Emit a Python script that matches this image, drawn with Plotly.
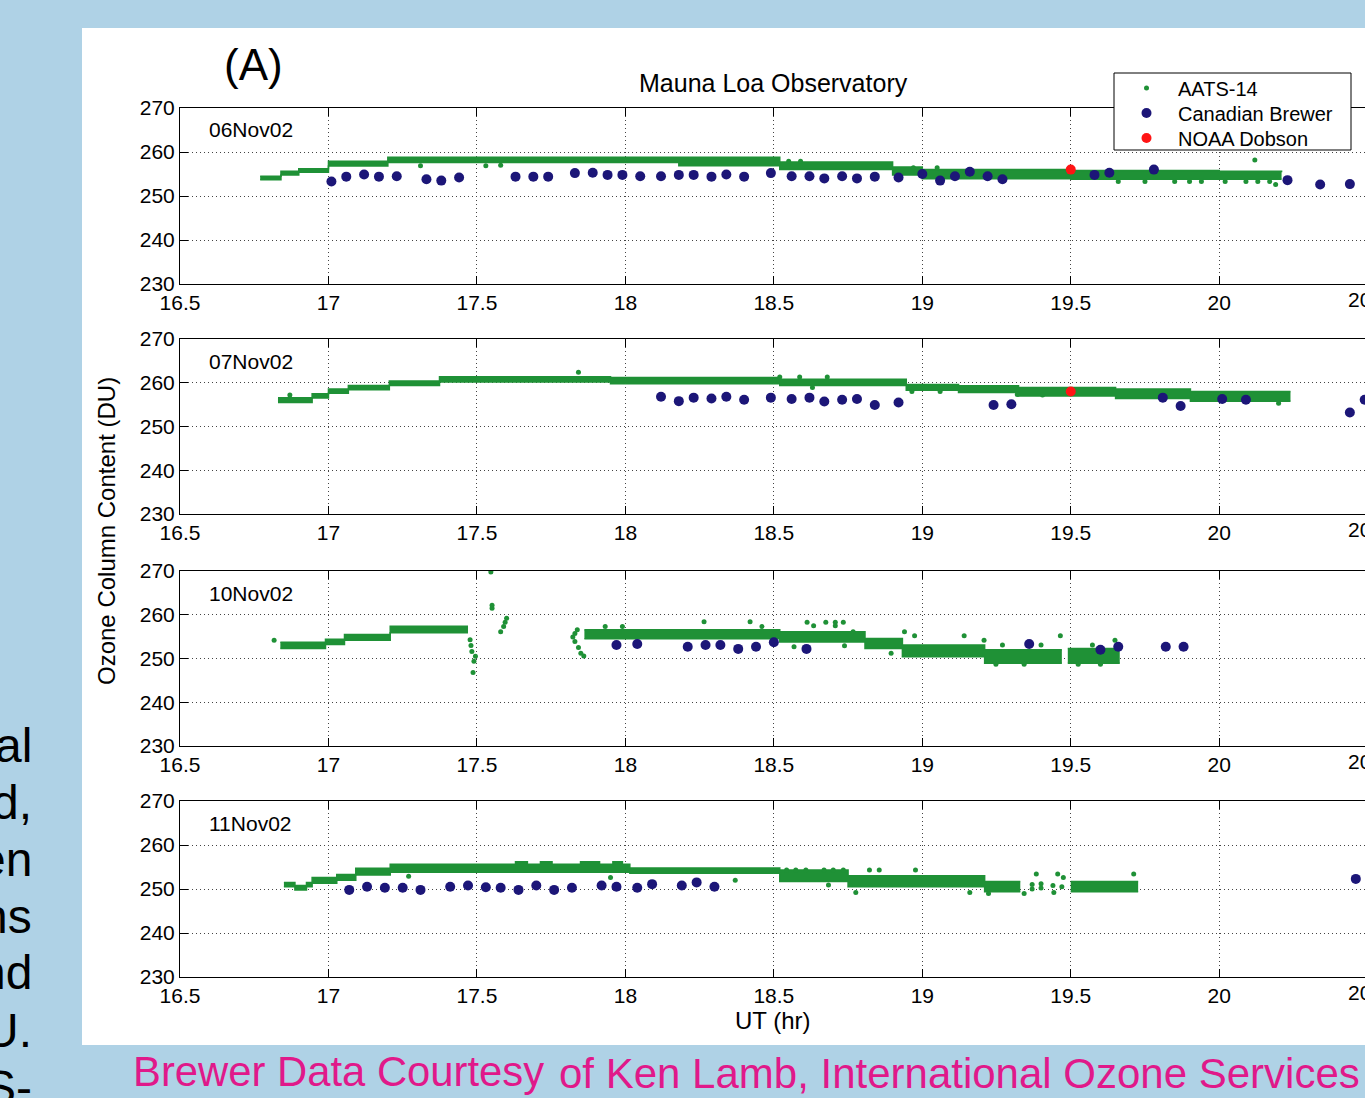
import plotly.graph_objects as go

W, H = 1365, 1098
FONT = "Liberation Sans, Arial, sans-serif"
GREEN = "#1f9136"
BLUE = "#1c1678"
RED = "#ff1414"
SLIDE_BG = "#afd2e6"
PINK = "#e0198a"


def px(x):
    return x / W


def py(y):
    return 1 - y / H


# ---------------- data ----------------
dates = ["06Nov02", "07Nov02", "10Nov02", "11Nov02"]
x_ticks = [16.5, 17.0, 17.5, 18.0, 18.5, 19.0, 19.5, 20.0]
x_tick_labels = ["16.5", "17", "17.5", "18", "18.5", "19", "19.5", "20"]
y_ticks = [230, 240, 250, 260, 270]
series_names = ["AATS-14", "Canadian Brewer", "NOAA Dobson"]

# Panel 1 (06Nov02)
p1_band_t = [16.77, 16.84, 16.90, 17.00, 17.20, 18.18, 18.52, 18.90, 19.00, 19.50, 20.00, 20.21]
p1_band_hi = [254.5, 255.6, 256.2, 257.9, 258.8, 258.8, 257.7, 256.6, 256.0, 255.8, 255.6, 255.4]
p1_band_lo = [253.7, 254.8, 255.4, 256.8, 257.6, 256.9, 256.0, 254.8, 253.9, 253.8, 253.8, 253.8]
p1_aats_t = [17.31, 17.53, 17.58, 18.55, 18.59, 18.97, 19.05, 19.66, 19.75, 19.85, 19.90, 19.94,
             20.02, 20.09, 20.12, 20.13, 20.17, 20.19]
p1_aats_v = [256.9, 256.9, 257.0, 257.9, 257.9, 256.4, 256.4, 253.3, 253.3, 253.3, 253.3, 253.3,
             253.3, 253.3, 258.2, 253.3, 253.3, 252.6]
p1_brewer_t = [17.01, 17.06, 17.12, 17.17, 17.23, 17.33, 17.38, 17.44, 17.63, 17.69, 17.74, 17.83,
               17.89, 17.94, 17.99, 18.05, 18.12, 18.18, 18.23, 18.29, 18.34, 18.40, 18.49, 18.56,
               18.62, 18.67, 18.73, 18.78, 18.84, 18.92, 19.00, 19.06, 19.11, 19.16, 19.22, 19.27,
               19.58, 19.63, 19.78, 20.23, 20.34, 20.44]
p1_brewer_v = [253.3, 254.4, 254.9, 254.4, 254.5, 253.8, 253.5, 254.2, 254.4, 254.4, 254.4, 255.2,
               255.3, 254.8, 254.8, 254.5, 254.5, 254.8, 254.8, 254.4, 254.9, 254.4, 255.2, 254.5,
               254.5, 254.0, 254.5, 254.0, 254.4, 254.2, 255.0, 253.5, 254.5, 255.5, 254.5, 253.8,
               254.8, 255.3, 256.0, 253.6, 252.6, 252.7]
p1_dobson_t = [19.5]
p1_dobson_v = [256.0]

# Panel 2 (07Nov02)
p2_band_t = [16.83, 16.945, 17.00, 17.067, 17.205, 17.374, 17.95, 18.52, 18.946, 19.122, 19.324,
             19.651, 19.903, 20.24]
p2_band_hi = [256.6, 257.5, 258.6, 259.4, 260.4, 261.4, 261.2, 260.8, 259.6, 259.3, 258.9, 258.6,
              258.0, 258.0]
p2_band_lo = [255.5, 256.5, 257.6, 258.4, 259.4, 260.2, 259.8, 259.4, 258.3, 257.8, 257.0, 256.4,
              255.8, 255.8]
p2_aats_t = [16.87, 17.842, 18.52, 18.587, 18.63, 18.68, 18.965, 19.06, 19.32, 19.405, 19.925,
             19.99, 20.2]
p2_aats_v = [257.2, 262.4, 261.3, 261.3, 258.9, 261.3, 258.0, 258.0, 257.3, 257.2, 256.6, 256.7,
             255.3]
p2_brewer_t = [18.12, 18.18, 18.23, 18.29, 18.34, 18.40, 18.49, 18.56, 18.62, 18.67, 18.73, 18.78,
               18.84, 18.92, 19.24, 19.30, 19.81, 19.87, 20.01, 20.09, 20.44, 20.49]
p2_brewer_v = [256.8, 255.8, 256.6, 256.4, 256.8, 256.1, 256.6, 256.3, 256.6, 255.7, 256.1, 256.3,
               254.9, 255.5, 254.9, 255.1, 256.6, 254.7, 256.3, 256.1, 253.2, 256.1]
p2_dobson_t = [19.5]
p2_dobson_v = [258.0]

# Panel 3 (10Nov02)
p3_band1_t = [16.838, 16.99, 17.054, 17.208, 17.47]
p3_band1_hi = [253.7, 254.4, 255.5, 257.4, 257.4]
p3_band1_lo = [252.3, 253.2, 254.2, 255.9, 255.9]
p3_band2_t = [17.862, 18.52, 18.807, 18.933, 19.21, 19.47]
p3_band2_hi = [256.6, 256.1, 254.6, 253.1, 252.0, 252.0]
p3_band2_lo = [254.5, 253.8, 252.3, 250.4, 248.9, 248.9]
p3_band3_t = [19.49, 19.665]
p3_band3_hi = [252.3, 252.3]
p3_band3_lo = [248.9, 248.9]
p3_aats_t = [16.817, 17.48, 17.477, 17.483, 17.495, 17.49, 17.487, 17.547, 17.551, 17.551, 17.58,
             17.59, 17.595, 17.60, 17.823, 17.83, 17.83, 17.838, 17.842, 17.85, 17.86, 17.932,
             17.99, 18.265, 18.42, 18.46, 18.568, 18.612, 18.634, 18.675, 18.707, 18.707, 18.734,
             18.738, 18.767, 18.895, 18.94, 18.974, 19.141, 19.208, 19.248, 19.27, 19.343, 19.40,
             19.465, 19.525, 19.573, 19.6, 19.649]
p3_aats_v = [254.2, 253.0, 254.3, 251.6, 250.5, 249.4, 246.8, 269.8, 262.2, 261.5, 256.1, 257.3,
             258.3, 259.2, 254.9, 253.9, 255.7, 256.6, 252.5, 251.2, 250.6, 257.3, 257.3, 258.4,
             258.4, 257.3, 252.7, 258.3, 257.5, 258.3, 258.3, 257.5, 258.3, 252.9, 256.1, 251.2,
             256.1, 255.2, 255.2, 254.2, 248.7, 253.1, 248.7, 253.1, 255.2, 248.7, 253.1, 248.7,
             254.2]
p3_brewer_t = [17.97, 18.04, 18.21, 18.27, 18.32, 18.38, 18.44, 18.50, 18.61, 19.36, 19.60, 19.66,
               19.82, 19.88]
p3_brewer_v = [253.1, 253.3, 252.7, 253.1, 253.1, 252.2, 252.7, 253.7, 252.2, 253.3, 252.0, 252.7,
               252.7, 252.7]

# Panel 4 (11Nov02)
p4_band1_t = [16.85, 16.887, 16.926, 16.945, 17.028, 17.092, 17.208, 17.63, 17.67, 17.714, 17.753,
              17.849, 17.913, 17.958, 17.99, 18.015, 18.52, 18.75, 19.21, 19.33]
p4_band1_hi = [251.5, 250.8, 251.5, 252.6, 253.3, 254.7, 255.6, 256.2, 255.6, 256.2, 255.6, 256.2,
               255.6, 256.2, 255.6, 254.8, 254.3, 253.0, 251.7, 251.7]
p4_band1_lo = [250.5, 249.8, 250.5, 251.3, 252.0, 253.2, 253.8, 253.8, 253.8, 253.8, 253.8, 253.8,
               253.8, 253.8, 253.8, 253.6, 251.7, 250.5, 249.4, 249.4]
p4_band2_t = [19.50, 19.727]
p4_band2_hi = [251.7, 251.7]
p4_band2_lo = [249.4, 249.4]
p4_aats_t = [17.27, 17.95, 18.37, 18.543, 18.574, 18.608, 18.669, 18.684, 18.70, 18.734, 18.776,
             18.822, 18.855, 18.977, 19.16, 19.223, 19.343, 19.37, 19.37, 19.384, 19.40, 19.40,
             19.443, 19.44, 19.456, 19.47, 19.475, 19.712]
p4_aats_v = [252.9, 252.6, 252.0, 254.3, 254.3, 254.3, 254.3, 250.9, 254.3, 254.3, 249.2, 254.3,
             254.3, 254.3, 249.2, 249.0, 249.0, 251.0, 250.0, 253.4, 251.2, 250.2, 249.2, 250.8,
             253.4, 250.5, 252.6, 253.4]
p4_brewer_t = [17.07, 17.13, 17.19, 17.25, 17.31, 17.41, 17.47, 17.53, 17.58, 17.64, 17.70, 17.76,
               17.82, 17.92, 17.97, 18.04, 18.09, 18.19, 18.24, 18.30, 20.46]
p4_brewer_v = [249.8, 250.5, 250.3, 250.3, 249.8, 250.5, 250.8, 250.4, 250.3, 249.8, 250.8, 249.8,
               250.3, 250.8, 250.5, 250.3, 251.1, 250.8, 251.5, 250.5, 252.3]

slide_words = ["al", "d,", "en", "ns", "nd", "U.", "S-"]

panels = [
    dict(bands=[(p1_band_t, p1_band_lo, p1_band_hi)], at=p1_aats_t, av=p1_aats_v,
         bt=p1_brewer_t, bv=p1_brewer_v, dt=p1_dobson_t, dv=p1_dobson_v),
    dict(bands=[(p2_band_t, p2_band_lo, p2_band_hi)], at=p2_aats_t, av=p2_aats_v,
         bt=p2_brewer_t, bv=p2_brewer_v, dt=p2_dobson_t, dv=p2_dobson_v),
    dict(bands=[(p3_band1_t, p3_band1_lo, p3_band1_hi), (p3_band2_t, p3_band2_lo, p3_band2_hi),
                (p3_band3_t, p3_band3_lo, p3_band3_hi)],
         at=p3_aats_t, av=p3_aats_v, bt=p3_brewer_t, bv=p3_brewer_v, dt=[], dv=[]),
    dict(bands=[(p4_band1_t, p4_band1_lo, p4_band1_hi), (p4_band2_t, p4_band2_lo, p4_band2_hi)],
         at=p4_aats_t, av=p4_aats_v, bt=p4_brewer_t, bv=p4_brewer_v, dt=[], dv=[]),
]

# pixel extents (top, bottom) of each panel
panel_px = [(108, 284), (339, 514), (571, 746), (801, 977)]
legend_rows_px = [88, 113, 138]
legend_keys = ["legend", "legend2", "legend3"]

fig = go.Figure()
for i, p in enumerate(panels):
    xa = "x" if i == 0 else f"x{i+1}"
    ya = "y" if i == 0 else f"y{i+1}"
    for (bt_, blo, bhi) in p["bands"]:
        fig.add_trace(go.Scatter(x=bt_, y=blo, mode="lines", xaxis=xa, yaxis=ya,
                                 line=dict(color=GREEN, width=1.5, shape="hv"),
                                 showlegend=False, hoverinfo="skip"))
        fig.add_trace(go.Scatter(x=bt_, y=bhi, mode="lines", xaxis=xa, yaxis=ya,
                                 line=dict(color=GREEN, width=1.5, shape="hv"),
                                 fill="tonexty", fillcolor=GREEN,
                                 showlegend=False, hoverinfo="skip"))
    fig.add_trace(go.Scatter(x=p["at"], y=p["av"], mode="markers", xaxis=xa, yaxis=ya,
                             marker=dict(color=GREEN, size=5), name=series_names[0],
                             showlegend=(i == 0), legend=legend_keys[0]))
    fig.add_trace(go.Scatter(x=p["bt"], y=p["bv"], mode="markers", xaxis=xa, yaxis=ya,
                             marker=dict(color=BLUE, size=10), name=series_names[1],
                             showlegend=(i == 0), legend=legend_keys[1]))
    if p["dt"]:
        fig.add_trace(go.Scatter(x=p["dt"], y=p["dv"], mode="markers", xaxis=xa, yaxis=ya,
                                 marker=dict(color=RED, size=10), name=series_names[2],
                                 showlegend=(i == 0), legend=legend_keys[2]))

layout = dict(
    width=W, height=H, margin=dict(l=0, r=0, t=0, b=0, pad=0, autoexpand=False),
    paper_bgcolor=SLIDE_BG, plot_bgcolor="white",
    font=dict(family=FONT, color="black"),
    showlegend=True,
)
for key, row in zip(legend_keys, legend_rows_px):
    layout[key] = dict(x=px(1115), y=py(row), xanchor="left", yanchor="middle",
                       bgcolor="rgba(0,0,0,0)", borderwidth=0,
                       font=dict(size=20, family=FONT, color="black"),
                       itemwidth=53, tracegroupgap=0, traceorder="normal")

annotations = []
for i, (top, bot) in enumerate(panel_px):
    xk = "xaxis" if i == 0 else f"xaxis{i+1}"
    yk = "yaxis" if i == 0 else f"yaxis{i+1}"
    ya = "y" if i == 0 else f"y{i+1}"
    xa = "x" if i == 0 else f"x{i+1}"
    layout[xk] = dict(domain=[px(180), 1], range=[16.5, 20.491], anchor=ya, automargin=False,
                      tickmode="array", tickvals=x_ticks, ticktext=x_tick_labels,
                      ticks="inside", ticklen=8, tickcolor="black",
                      showline=True, linecolor="black", linewidth=1, mirror="ticks",
                      showgrid=True, gridcolor="#444", griddash="1px,3px", gridwidth=1,
                      zeroline=False, tickfont=dict(size=21, family=FONT, color="black"),
                      fixedrange=True)
    layout[yk] = dict(domain=[py(bot), py(top)], range=[230, 270], anchor=xa, automargin=False,
                      tickmode="array", tickvals=y_ticks,
                      ticks="inside", ticklen=8, tickcolor="black",
                      showline=True, linecolor="black", linewidth=1, mirror=False,
                      showgrid=True, gridcolor="#444", griddash="1px,3px", gridwidth=1,
                      zeroline=False, tickfont=dict(size=21, family=FONT, color="black"),
                      fixedrange=True)
    annotations.append(dict(text=dates[i], xref="paper", yref="paper", x=px(207), y=py(top + 22),
                            xanchor="left", yanchor="middle", showarrow=False,
                            font=dict(size=21, family=FONT, color="black")))
    annotations.append(dict(text="20.5", xref="paper", yref="paper", x=px(1368), y=py(bot + 15),
                            xanchor="center", yanchor="middle", showarrow=False,
                            font=dict(size=21, family=FONT, color="black")))

annotations += [
    dict(text="(A)", xref="paper", yref="paper", x=px(253), y=py(65), showarrow=False,
         xanchor="center", yanchor="middle", font=dict(size=44, family=FONT, color="black")),
    dict(text="Mauna Loa Observatory", xref="paper", yref="paper", x=px(773), y=py(83),
         showarrow=False, xanchor="center", yanchor="middle",
         font=dict(size=25, family=FONT, color="black")),
    dict(text="Ozone Column Content (DU)", xref="paper", yref="paper", x=px(106), y=py(531),
         showarrow=False, xanchor="center", yanchor="middle", textangle=-90,
         font=dict(size=24, family=FONT, color="black")),
    dict(text="UT (hr)", xref="paper", yref="paper", x=px(773), y=py(1020),
         showarrow=False, xanchor="center", yanchor="middle",
         font=dict(size=24, family=FONT, color="black")),
    dict(text="Brewer Data Courtesy", xref="paper", yref="paper", x=px(131), y=py(1071),
         showarrow=False, xanchor="left", yanchor="middle",
         font=dict(size=41.8, family=FONT, color=PINK)),
    dict(text="of Ken Lamb, International Ozone Services", xref="paper", yref="paper",
         x=px(557), y=py(1073), showarrow=False, xanchor="left", yanchor="middle",
         font=dict(size=42, family=FONT, color=PINK)),
]
for k, w in enumerate(slide_words):
    annotations.append(dict(text=w, xref="paper", yref="paper", x=px(34), y=py(745 + 57 * k),
                            showarrow=False, xanchor="right", yanchor="middle",
                            font=dict(size=48, family=FONT, color="black")))
layout["annotations"] = annotations
layout["shapes"] = [
    dict(type="rect", xref="paper", yref="paper", x0=px(82), x1=1.0,
         y0=py(1045), y1=py(28), fillcolor="white", line=dict(width=0), layer="below"),
    dict(type="rect", xref="paper", yref="paper", x0=px(1114), x1=px(1351),
         y0=py(150), y1=py(73), fillcolor="white", line=dict(color="black", width=1),
         layer="above"),
]

fig.update_layout(**layout)
fig.write_html("out.html", config={"displayModeBar": False})
